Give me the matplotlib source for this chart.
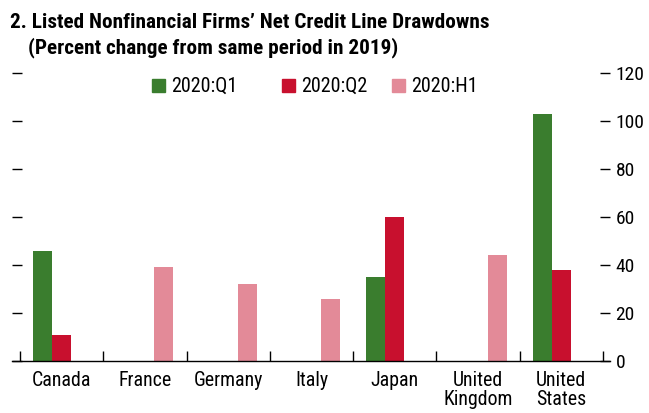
import matplotlib
matplotlib.use("Agg")
import matplotlib.pyplot as plt
from matplotlib import font_manager
from matplotlib.patches import Rectangle
import numpy as np

categories = ["Canada", "France", "Germany", "Italy", "Japan", "United\nKingdom", "United\nStates"]
q1 = [46, np.nan, np.nan, np.nan, 35, np.nan, 103]
q2 = [11, np.nan, np.nan, np.nan, 60, np.nan, 38]
h1 = [np.nan, 39, 32, 26, np.nan, 44, np.nan]
series_labels = ["2020:Q1", "2020:Q2", "2020:H1"]
yticks = [0, 20, 40, 60, 80, 100, 120]

colors = ["#3a7d2e", "#c8102e", "#e38a98"]

names = {f.name for f in font_manager.fontManager.ttflist}
prefs = ["Roboto Condensed", "Archivo Narrow", "PT Sans Narrow", "Liberation Sans Narrow", "Liberation Sans"]
fam = next(p for p in prefs if p in names)
plt.rcParams['font.family'] = [fam, 'DejaVu Sans']

W, H = 649, 413
fig = plt.figure(figsize=(W/100, H/100), dpi=100)
left_px, right_px, bot_px, top_px = 12, 610, 361, 73
ax = fig.add_axes([left_px/W, 1-bot_px/H, (right_px-left_px)/W, (bot_px-top_px)/H])

x = np.arange(len(categories))
w = 0.228
series = [q1, q2, h1]
offsets = [-w, 0, w]
for vals, off, c, lab in zip(series, offsets, colors, series_labels):
    ax.bar(x + off, vals, w, color=c, label=lab)

cat_w = (603-20)/7
ax.set_xlim(-0.5 - 8/cat_w, 6.5 + 7/cat_w)
ax.set_ylim(0, 120)

for s in ["top", "left", "right"]:
    ax.spines[s].set_visible(False)
ax.spines["bottom"].set_linewidth(1.0)

ax.set_xticks(x)
ax.set_xticklabels(categories, fontsize=14.3, linespacing=1.05)
ax.tick_params(axis="x", which="major", length=0, pad=7)
ax.set_xticks(np.arange(-0.5, 7, 1), minor=True)
ax.tick_params(axis="x", which="minor", direction="in", length=7, width=1)

ax.set_yticks(yticks)
ax.tick_params(axis="y", which="major", direction="in", length=7.5, width=1,
               left=True, right=True, labelleft=False, labelright=True,
               labelsize=14, pad=4)
ax.yaxis.set_ticks_position("both")

# legend (manual placement, figure pixel coords)
leg_sq_x = [152, 282, 392]
sq = 13
for lx, c, lab in zip(leg_sq_x, colors, series_labels):
    fig.patches.append(Rectangle((lx/W, 1-92/H), sq/W, sq/H, transform=fig.transFigure,
                                 color=c, figure=fig))
    fig.text((lx+19)/W, 1-86/H, lab, fontsize=14.5, va="center", ha="left")

fig.text(10/W, 1-22/H, "2. Listed Nonfinancial Firms\u2019 Net Credit Line Drawdowns",
         fontsize=15.3, fontweight="bold", va="center", ha="left")
fig.text(28/W, 1-48/H, "(Percent change from same period in 2019)",
         fontsize=15.3, fontweight="bold", va="center", ha="left")

fig.savefig("out.png", dpi=100)
